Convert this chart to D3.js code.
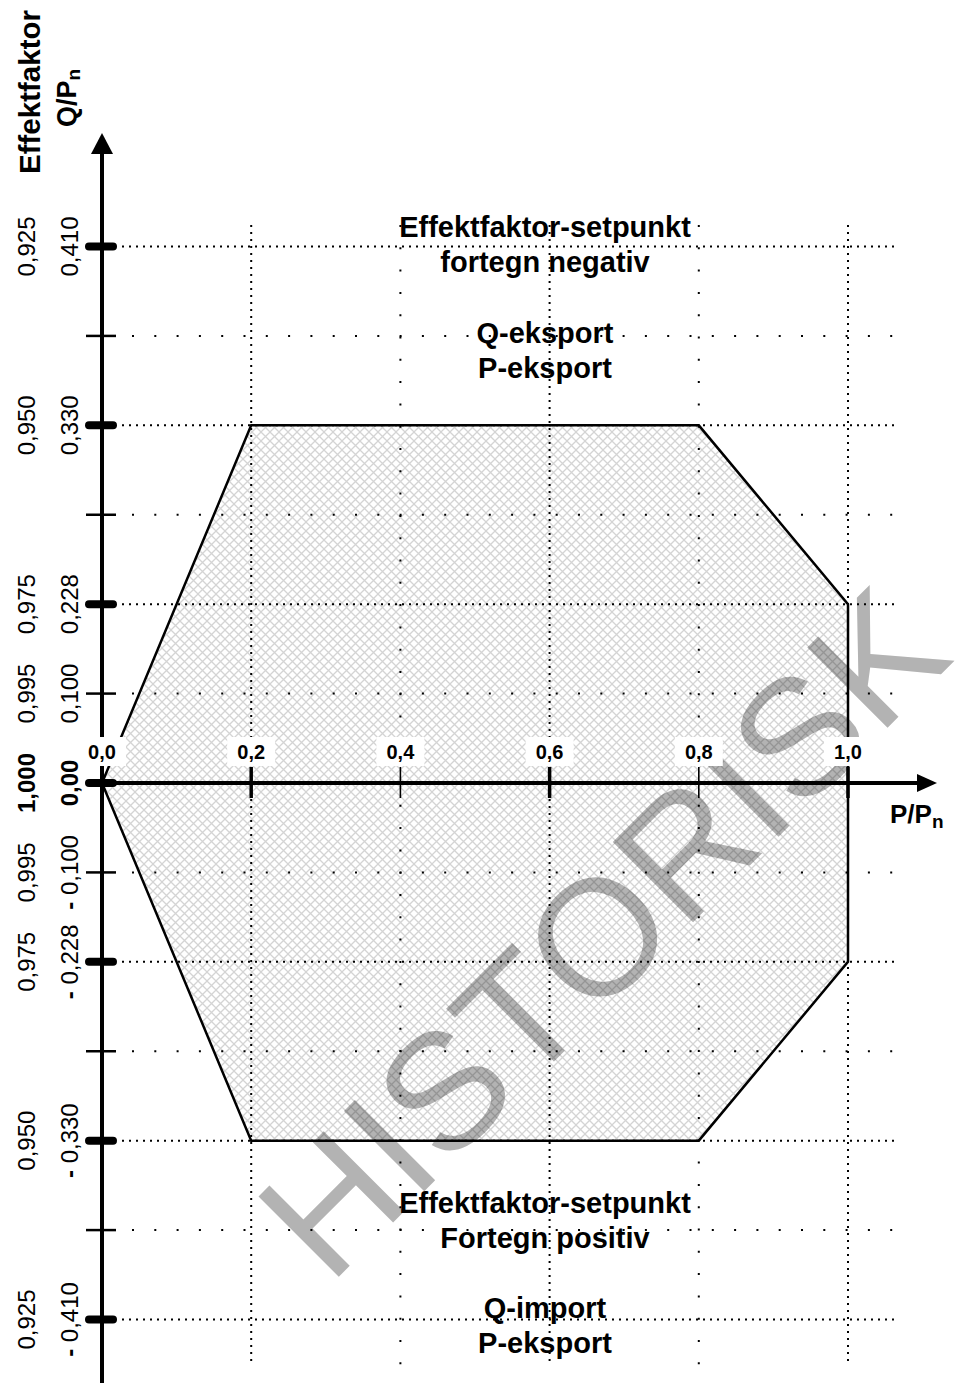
<!DOCTYPE html>
<html>
<head>
<meta charset="utf-8">
<script src="https://cdn.jsdelivr.net/npm/d3@7"></script>
<style>
body { margin: 0; background: #fff; }
svg { display: block; font-family: "Liberation Sans", Arial, sans-serif; }
</style>
</head>
<body>
<div id="chart"></div>
<script>
// P/Pn axis
var pTicks = [0, 0.2, 0.4, 0.6, 0.8, 1.0];
var pLabels = ["0,0", "0,2", "0,4", "0,6", "0,8", "1,0"];
var pDense = [false, true, false, true, false, true]; //dense dotted gridline + thick tick

// Q/Pn axis, evenly spaced slots from top to bottom
var qSlots = [6, 5, 4, 3, 2, 1, 0, -1, -2, -3, -4, -5, -6];
var qValues = [0.41, null, 0.33, null, 0.228, 0.1, 0, -0.1, -0.228, null, -0.33, null, -0.41];
var qLabels = ["0,410", "", "0,330", "", "0,228", "0,100", "0,00", "0,100", "0,228", "", "0,330", "", "0,410"];
var pfLabels = ["0,925", "", "0,950", "", "0,975", "0,995", "1,000", "0,995", "0,975", "", "0,950", "", "0,925"];
var qMajor = [true, false, true, false, true, false, true, false, true, false, true, false, true];

// capability area corners
var areaP = [0, 0.2, 0.8, 1.0, 1.0, 0.8, 0.2];
var areaQ = [0, 0.33, 0.33, 0.228, -0.228, -0.33, -0.33];

// text blocks
var topText = ["Effektfaktor-setpunkt", "fortegn negativ", "Q-eksport", "P-eksport"];
var bottomText = ["Effektfaktor-setpunkt", "Fortegn positiv", "Q-import", "P-eksport"];

var width = 968, height = 1383;

var svg = d3.select("#chart").append("svg")
    .attr("width", width)
    .attr("height", height);

svg.append("rect").attr("width", width).attr("height", height).attr("fill", "#fff");

var x = d3.scaleLinear().domain([0, 1]).range([102, 848]); //P/Pn
var slotY = d3.scaleLinear().domain([-6, 6]).range([1319.5, 246.5]); //even slots

// Q scale is piecewise: each labelled value sits on its slot
var qDom = [], qRange = [];
qValues.forEach(function (v, i) {
    if (v !== null) { qDom.push(v); qRange.push(slotY(qSlots[i])); }
});
var y = d3.scaleLinear().domain(qDom).range(qRange);

var defs = svg.append("defs");
var pat = defs.append("pattern")
    .attr("id", "hatch")
    .attr("patternUnits", "userSpaceOnUse")
    .attr("width", 9)
    .attr("height", 9);
pat.append("path")
    .attr("d", "M-1,-1L10,10M10,-1L-1,10")
    .attr("stroke", "#000")
    .attr("stroke-opacity", 0.17)
    .attr("stroke-width", 1.3)
    .attr("fill", "none");

// watermark
svg.append("text")
    .attr("transform", "translate(598,934) rotate(-45)")
    .attr("x", 4)
    .attr("y", 59)
    .attr("text-anchor", "middle")
    .attr("font-size", 165)
    .attr("fill", "#b3b3b3")
    .text("HISTORISK");

// hatched area
var area = areaP.map(function (p, i) { return [x(p), y(areaQ[i])]; });
svg.append("path")
    .attr("d", d3.line()(area) + "Z")
    .attr("fill", "url(#hatch)")
    .attr("stroke", "none");

// horizontal dotted gridlines
svg.append("g").selectAll("line")
    .data(qSlots)
    .enter()
    .append("line")
    .attr("x1", (d, i) => qMajor[i] ? 122 : 132)
    .attr("x2", 895)
    .attr("y1", d => slotY(d))
    .attr("y2", d => slotY(d))
    .attr("stroke", "#000")
    .attr("stroke-width", 2)
    .attr("stroke-dasharray", (d, i) => qMajor[i] ? "2,5" : "2,20.3");

// vertical dotted gridlines
svg.append("g").selectAll("line")
    .data(pTicks.slice(1))
    .enter()
    .append("line")
    .attr("x1", d => x(d))
    .attr("x2", d => x(d))
    .attr("y1", 225)
    .attr("y2", 1366)
    .attr("stroke", "#000")
    .attr("stroke-width", 2)
    .attr("stroke-dasharray", (d, i) => pDense[i + 1] ? "2,5" : "2,20.3");

// area outline
svg.append("path")
    .attr("d", d3.line()(area) + "Z")
    .attr("fill", "none")
    .attr("stroke", "#000")
    .attr("stroke-width", 2.5);

// axes
svg.append("line") //P axis
    .attr("x1", 86).attr("x2", 920)
    .attr("y1", y(0)).attr("y2", y(0))
    .attr("stroke", "#000").attr("stroke-width", 4);
svg.append("path")
    .attr("d", `M937,${y(0)}L917,${y(0) - 9}L917,${y(0) + 9}Z`)
    .attr("fill", "#000");
svg.append("line") //Q axis
    .attr("x1", x(0)).attr("x2", x(0))
    .attr("y1", 150).attr("y2", height)
    .attr("stroke", "#000").attr("stroke-width", 4);
svg.append("path")
    .attr("d", `M${x(0)},133L${x(0) - 11},154L${x(0) + 11},154Z`)
    .attr("fill", "#000");

// Q ticks
svg.append("g").selectAll("line")
    .data(qSlots)
    .enter()
    .append("line")
    .attr("x1", (d, i) => qMajor[i] ? 89 : 86)
    .attr("x2", (d, i) => qMajor[i] ? 113 : 116)
    .attr("y1", d => slotY(d))
    .attr("y2", d => slotY(d))
    .attr("stroke", "#000")
    .attr("stroke-width", (d, i) => qMajor[i] ? 8 : 2.5)
    .attr("stroke-linecap", (d, i) => qMajor[i] ? "round" : "butt");

// P ticks
svg.append("g").selectAll("line")
    .data(pTicks.slice(1))
    .enter()
    .append("line")
    .attr("x1", d => x(d))
    .attr("x2", d => x(d))
    .attr("y1", 767)
    .attr("y2", 798)
    .attr("stroke", "#000")
    .attr("stroke-width", (d, i) => pDense[i + 1] ? 3.5 : 1.6);

// P tick labels on white boxes
var pLab = svg.append("g").selectAll("g")
    .data(pTicks)
    .enter()
    .append("g")
    .attr("transform", d => `translate(${x(d)},0)`);
pLab.append("rect")
    .attr("x", -24).attr("y", 737)
    .attr("width", 48).attr("height", 29)
    .attr("fill", "#fff");
pLab.append("text")
    .attr("y", 759)
    .attr("text-anchor", "middle")
    .attr("font-size", 20)
    .attr("font-weight", "bold")
    .text((d, i) => pLabels[i]);

// Q labels and power factor labels (rotated)
function qLabel(labels, xBase, withSign) {
    var t = svg.append("g").selectAll("text")
        .data(qSlots.filter((d, i) => labels[i] !== ""))
        .enter()
        .append("text")
        .attr("transform", d => `translate(${xBase},${slotY(d)}) rotate(-90)`)
        .attr("text-anchor", "middle")
        .attr("font-size", 24)
        .attr("font-weight", d => d === 0 ? "bold" : "normal");
    t.each(function (d) {
        var i = qSlots.indexOf(d);
        var el = d3.select(this);
        if (withSign && d < 0) {
            el.append("tspan").attr("font-weight", "bold").text("- ");
        }
        el.append("tspan").text(labels[i]);
    });
}
qLabel(pfLabels, 35, false);
qLabel(qLabels, 78, true);

// axis titles
svg.append("text")
    .attr("transform", "translate(40,92) rotate(-90)")
    .attr("text-anchor", "middle")
    .attr("font-size", 29.5)
    .attr("font-weight", "bold")
    .text("Effektfaktor");
var qt = svg.append("text")
    .attr("transform", "translate(76,98) rotate(-90)")
    .attr("text-anchor", "middle")
    .attr("font-size", 27)
    .attr("font-weight", "bold");
qt.append("tspan").text("Q/P");
qt.append("tspan").attr("font-size", 19).attr("dy", 4).text("n");

var pt = svg.append("text")
    .attr("x", 890)
    .attr("y", 823)
    .attr("font-size", 26)
    .attr("font-weight", "bold");
pt.append("tspan").text("P/P");
pt.append("tspan").attr("font-size", 19).attr("dy", 5).text("n");

// quadrant notes
var topY = [237, 272, 343, 378];
var bottomY = [1213, 1248, 1318, 1353];
svg.append("g").selectAll("text")
    .data(topText)
    .enter()
    .append("text")
    .attr("x", 545)
    .attr("y", (d, i) => topY[i])
    .attr("text-anchor", "middle")
    .attr("font-size", 29)
    .attr("font-weight", "bold")
    .text(d => d);
svg.append("g").selectAll("text")
    .data(bottomText)
    .enter()
    .append("text")
    .attr("x", 545)
    .attr("y", (d, i) => bottomY[i])
    .attr("text-anchor", "middle")
    .attr("font-size", 29)
    .attr("font-weight", "bold")
    .text(d => d);
</script>
</body>
</html>
